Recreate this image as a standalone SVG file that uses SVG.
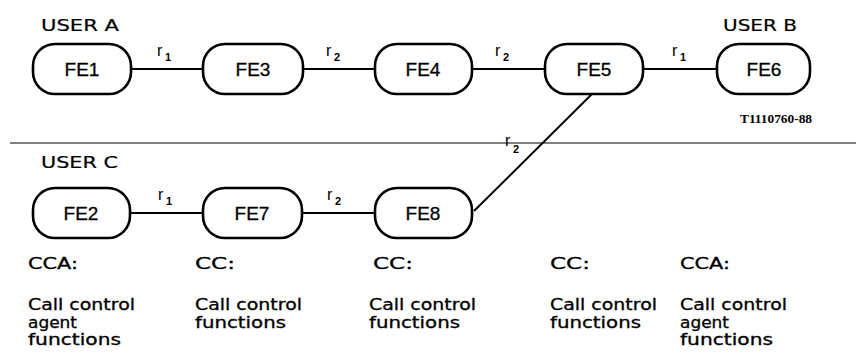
<svg xmlns="http://www.w3.org/2000/svg" width="856" height="358" viewBox="0 0 856 358">
  <style>
    .node { fill: #ffffff; stroke: #000000; stroke-width: 2.6; }
    .link { stroke: #000000; stroke-width: 2; fill: none; }
    .sep { stroke: #808080; stroke-width: 2; }
    .lbl { font-family: "Liberation Sans", Arial, sans-serif; font-size: 19px; fill: #000; stroke: #000; stroke-width: 0.3; text-anchor: middle; }
    .user { font-family: "DejaVu Sans", Arial, sans-serif; font-size: 16px; fill: #000; stroke: #000; stroke-width: 0.2; }
    .txt { font-family: "DejaVu Sans", Arial, sans-serif; font-size: 15px; fill: #000; stroke: #000; stroke-width: 0.3; }
    .r { font-family: "Liberation Sans", Arial, sans-serif; font-size: 16px; fill: #000; }
    .sub { font-family: "Liberation Sans", Arial, sans-serif; font-size: 11px; font-weight: bold; fill: #000; }
    .ref { font-family: "Liberation Serif", "Times New Roman", serif; font-size: 12px; font-weight: bold; fill: #000; }
  </style>

  <!-- separator between the two call halves -->
  <line class="sep" x1="10" y1="143" x2="856" y2="143"/>

  <!-- connectors -->
  <g id="connectors">
    <line class="link" x1="131" y1="69" x2="203" y2="69"/>
    <line class="link" x1="303" y1="69" x2="375" y2="69"/>
    <line class="link" x1="472" y1="69" x2="545" y2="69"/>
    <line class="link" x1="643" y1="69" x2="717" y2="69"/>
    <line class="link" x1="130" y1="213" x2="203" y2="213"/>
    <line class="link" x1="302" y1="213" x2="375" y2="213"/>
    <line class="link" x1="593" y1="93" x2="474" y2="211"/>
    <!-- relationship labels -->
    <text class="r" x="157" y="56">r</text><text class="sub" x="165" y="61">1</text>
    <text class="r" x="326" y="56">r</text><text class="sub" x="334" y="61">2</text>
    <text class="r" x="495" y="56">r</text><text class="sub" x="503" y="61">2</text>
    <text class="r" x="672" y="56">r</text><text class="sub" x="680" y="61">1</text>
    <text class="r" x="158" y="200">r</text><text class="sub" x="166" y="205">1</text>
    <text class="r" x="327" y="200">r</text><text class="sub" x="335" y="205">2</text>
    <text class="r" x="505" y="146">r</text><text class="sub" x="513" y="153">2</text>
  </g>

  <!-- user labels -->
  <text class="user" x="41" y="31" textLength="78" lengthAdjust="spacingAndGlyphs">USER A</text>
  <text class="user" x="723" y="31" textLength="74" lengthAdjust="spacingAndGlyphs">USER B</text>
  <text class="user" x="41" y="168" textLength="77" lengthAdjust="spacingAndGlyphs">USER C</text>
  <text class="ref" x="740" y="123" textLength="72" lengthAdjust="spacingAndGlyphs">T1110760-88</text>

  <!-- functional entities -->
  <g id="FE1"><rect class="node" x="33" y="44" width="98" height="50" rx="22"/><text class="lbl" x="82" y="76">FE1</text></g>
  <g id="FE3"><rect class="node" x="203" y="44" width="100" height="50" rx="22"/><text class="lbl" x="253" y="76">FE3</text></g>
  <g id="FE4"><rect class="node" x="375" y="44" width="97" height="50" rx="22"/><text class="lbl" x="423" y="76">FE4</text></g>
  <g id="FE5"><rect class="node" x="545" y="44" width="98" height="50" rx="22"/><text class="lbl" x="594" y="76">FE5</text></g>
  <g id="FE6"><rect class="node" x="717" y="44" width="93" height="50" rx="22"/><text class="lbl" x="764" y="76">FE6</text></g>
  <g id="FE2"><rect class="node" x="33" y="188" width="97" height="50" rx="22"/><text class="lbl" x="81" y="220">FE2</text></g>
  <g id="FE7"><rect class="node" x="203" y="188" width="99" height="50" rx="22"/><text class="lbl" x="252" y="220">FE7</text></g>
  <g id="FE8"><rect class="node" x="375" y="188" width="97" height="50" rx="22"/><text class="lbl" x="423" y="220">FE8</text></g>

  <!-- function descriptions -->
  <g id="desc-FE2">
    <text class="txt" x="28" y="269" textLength="50" lengthAdjust="spacingAndGlyphs">CCA:</text>
    <text class="txt" x="28" y="310" textLength="107" lengthAdjust="spacingAndGlyphs">Call control</text>
    <text class="txt" x="28" y="327.5" textLength="49" lengthAdjust="spacingAndGlyphs">agent</text>
    <text class="txt" x="28" y="345" textLength="93" lengthAdjust="spacingAndGlyphs">functions</text>
  </g>
  <g id="desc-FE7">
    <text class="txt" x="195" y="269" textLength="40" lengthAdjust="spacingAndGlyphs">CC:</text>
    <text class="txt" x="195" y="310" textLength="107" lengthAdjust="spacingAndGlyphs">Call control</text>
    <text class="txt" x="195" y="327.5" textLength="91" lengthAdjust="spacingAndGlyphs">functions</text>
  </g>
  <g id="desc-FE8">
    <text class="txt" x="373" y="269" textLength="40" lengthAdjust="spacingAndGlyphs">CC:</text>
    <text class="txt" x="369" y="310" textLength="107" lengthAdjust="spacingAndGlyphs">Call control</text>
    <text class="txt" x="369" y="327.5" textLength="91" lengthAdjust="spacingAndGlyphs">functions</text>
  </g>
  <g id="desc-FE5">
    <text class="txt" x="550" y="269" textLength="40" lengthAdjust="spacingAndGlyphs">CC:</text>
    <text class="txt" x="550" y="310" textLength="107" lengthAdjust="spacingAndGlyphs">Call control</text>
    <text class="txt" x="550" y="327.5" textLength="91" lengthAdjust="spacingAndGlyphs">functions</text>
  </g>
  <g id="desc-FE6">
    <text class="txt" x="680" y="269" textLength="50" lengthAdjust="spacingAndGlyphs">CCA:</text>
    <text class="txt" x="680" y="310" textLength="107" lengthAdjust="spacingAndGlyphs">Call control</text>
    <text class="txt" x="680" y="327.5" textLength="49" lengthAdjust="spacingAndGlyphs">agent</text>
    <text class="txt" x="680" y="345" textLength="93" lengthAdjust="spacingAndGlyphs">functions</text>
  </g>
</svg>
